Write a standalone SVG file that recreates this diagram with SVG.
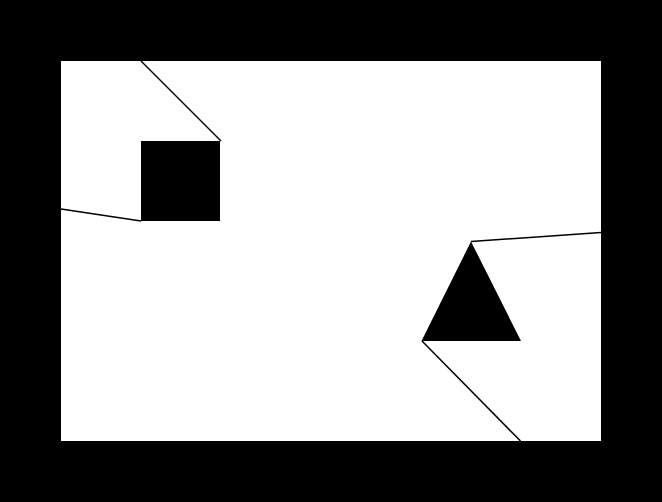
<svg xmlns="http://www.w3.org/2000/svg" width="662" height="502" viewBox="0 0 662 502">
<style>
.shape{fill:#000;stroke:none}
.conn{stroke:#000;stroke-width:1.5;fill:none}
</style>
<rect x="0" y="0" width="662" height="502" fill="#000"/>
<rect x="61" y="61" width="540" height="380" fill="#fff"/>
<g id="connectors">
<line class="conn" x1="141" y1="61" x2="221" y2="141"/>
<line class="conn" x1="61" y1="209" x2="141" y2="221"/>
<line class="conn" x1="471" y1="241.5" x2="601" y2="232.5"/>
<line class="conn" x1="422" y1="341" x2="520.5" y2="441"/>
</g>
<g id="square"><rect class="shape" x="141" y="141" width="79" height="80"/></g>
<g id="triangle"><polygon class="shape" points="471,241.5 421.5,341 521,341"/></g>
</svg>
